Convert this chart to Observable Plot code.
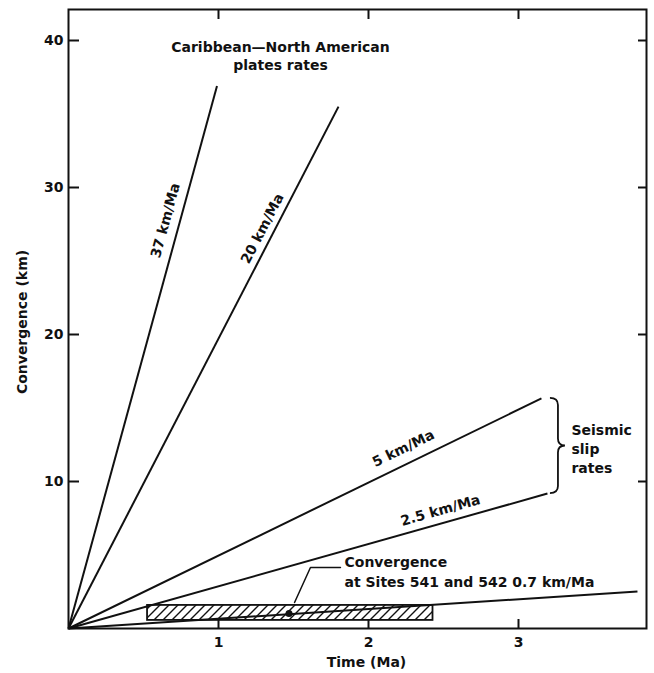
<!DOCTYPE html>
<html><head><meta charset="utf-8">
<script src="https://cdn.jsdelivr.net/npm/d3@7"></script>
<script src="https://cdn.jsdelivr.net/npm/@observablehq/plot@0.6"></script>
<style>body{margin:0;background:#fff}</style>
</head><body><div id="chart"></div>
<script>
// ---- data ----
const xTicks = [1, 2, 3];
const yTicks = [10, 20, 30, 40];
const rateLabels = ["37 km/Ma", "20 km/Ma", "5 km/Ma", "2.5 km/Ma", "0.7 km/Ma"];
const endTime = [0.99, 1.80, 3.153, 3.193, 3.793];
const endConv = [36.9, 35.5, 15.65, 9.18, 2.52];
const labelTime = [0.647, 1.293, 2.233, 2.48];
const labelConv = [27.75, 27.2, 12.24, 8.03];
const siteTimeRange = [0.527, 2.43];
const siteConvRange = [0.55, 1.57];
const siteTime = [1.47];
const siteConv = [1.02];
const leaderTime = [1.507, 1.613, 1.813];
const leaderConv = [1.77, 4.15, 4.15];
const braceTime = 3.213;
const braceConv = [9.18, 15.65];
const titleText = "Caribbean\u2014North American\nplates rates";
const seismicText = "Seismic\nslip\nrates";
const siteText = "Convergence\nat Sites 541 and 542 0.7 km/Ma";

// ---- layout ----
const W = 654, H = 673;
const mL = 68, mR = 8, mT = 9, mB = 45;
const xMax = (W - mL - mR) / 150;
const yMax = (H - mT - mB) / 14.7;
const kx = (W - mL - mR) / xMax, ky = (H - mT - mB) / yMax;

const lines = rateLabels.map((r, i) => ({t: endTime[i], c: endConv[i]}));
const labels = labelTime.map((t, i) => ({
  t, c: labelConv[i], text: rateLabels[i],
  angle: -Math.atan((endConv[i] / endTime[i]) * ky / kx) * 180 / Math.PI
}));
const leader = leaderTime.map((t, i) => ({t, c: leaderConv[i]}));

const brace = (index, scales) => {
  const x0 = scales.x(braceTime);
  const yT = scales.y(braceConv[1]), yB = scales.y(braceConv[0]);
  const ym = (yT + yB) / 2, a = 8, w = 15, r = 7;
  const p = `M${x0},${yT} Q${x0+a},${yT} ${x0+a},${yT+r} L${x0+a},${ym-r} Q${x0+a},${ym} ${x0+w},${ym} Q${x0+a},${ym} ${x0+a},${ym+r} L${x0+a},${yB-r} Q${x0+a},${yB} ${x0},${yB}`;
  return d3.create("svg:path").attr("d", p).attr("fill", "none").attr("stroke", "#111").attr("stroke-width", 1.8).node();
};

const txt = {fill: "#111", fontWeight: "bold", fontSize: 14};
const blank = () => "";

const svg = Plot.plot({
  width: W, height: H,
  marginLeft: mL, marginRight: mR, marginTop: mT, marginBottom: mB,
  style: {fontFamily: "DejaVu Sans", fontSize: "14px", fontWeight: "bold", color: "#111", background: "#fff"},
  x: {domain: [0, xMax]},
  y: {domain: [0, yMax]},
  marks: [
    Plot.rect([0], {x1: () => siteTimeRange[0], x2: () => siteTimeRange[1], y1: () => siteConvRange[0], y2: () => siteConvRange[1],
      fill: "url(#hatch)", stroke: "#111", strokeWidth: 1.8}),
    Plot.link(lines, {x1: 0, y1: 0, x2: "t", y2: "c", stroke: "#111", strokeWidth: 2}),
    Plot.dot(siteTime.map((t, i) => ({t, c: siteConv[i]})), {x: "t", y: "c", r: 3.5, fill: "#111"}),
    Plot.line(leader, {x: "t", y: "c", stroke: "#111", strokeWidth: 1.5}),
    brace,
    Plot.text(labels, {x: "t", y: "c", text: "text", rotate: "angle", ...txt}),
    Plot.text([titleText], {x: 1.413, y: 38.98, lineHeight: 1.29, ...txt}),
    Plot.text([seismicText], {x: 3.353, y: 12.31, textAnchor: "start", lineHeight: 1.36, ...txt}),
    Plot.text([siteText], {x: 1.84, y: 3.95, textAnchor: "start", lineHeight: 1.43, ...txt}),
    Plot.frame({stroke: "#111", strokeWidth: 2}),
    Plot.axisY({anchor: "left", ticks: yTicks, tickSize: -11, tickPadding: 16, strokeWidth: 2, label: null, tickFormat: "d"}),
    Plot.axisY({anchor: "right", ticks: yTicks, tickSize: -9, tickFormat: blank, strokeWidth: 2, label: null}),
    Plot.axisX({anchor: "bottom", ticks: xTicks, tickSize: -9, tickPadding: 18, strokeWidth: 2, label: null, tickFormat: "d"}),
    Plot.axisX({anchor: "top", ticks: xTicks, tickSize: -9, tickFormat: blank, strokeWidth: 2, label: null}),
    Plot.text(["Time (Ma)"], {frameAnchor: "bottom", dx: 9, dy: 34, lineAnchor: "middle", ...txt}),
    Plot.text(["Convergence (km)"], {frameAnchor: "left", dx: -46, dy: 3, rotate: -90, textAnchor: "middle", ...txt})
  ]
});

const defs = d3.create("svg:defs");
const pat = defs.append("pattern").attr("id", "hatch").attr("patternUnits", "userSpaceOnUse")
  .attr("width", 9).attr("height", 9);
pat.append("rect").attr("width", 9).attr("height", 9).attr("fill", "#fff");
pat.append("path").attr("d", "M-2,11 L11,-2 M-2,2 L2,-2 M7,11 L11,7").attr("stroke", "#111").attr("stroke-width", 1.4);
svg.prepend(defs.node());
document.getElementById("chart").append(svg);
</script>
</body></html>
